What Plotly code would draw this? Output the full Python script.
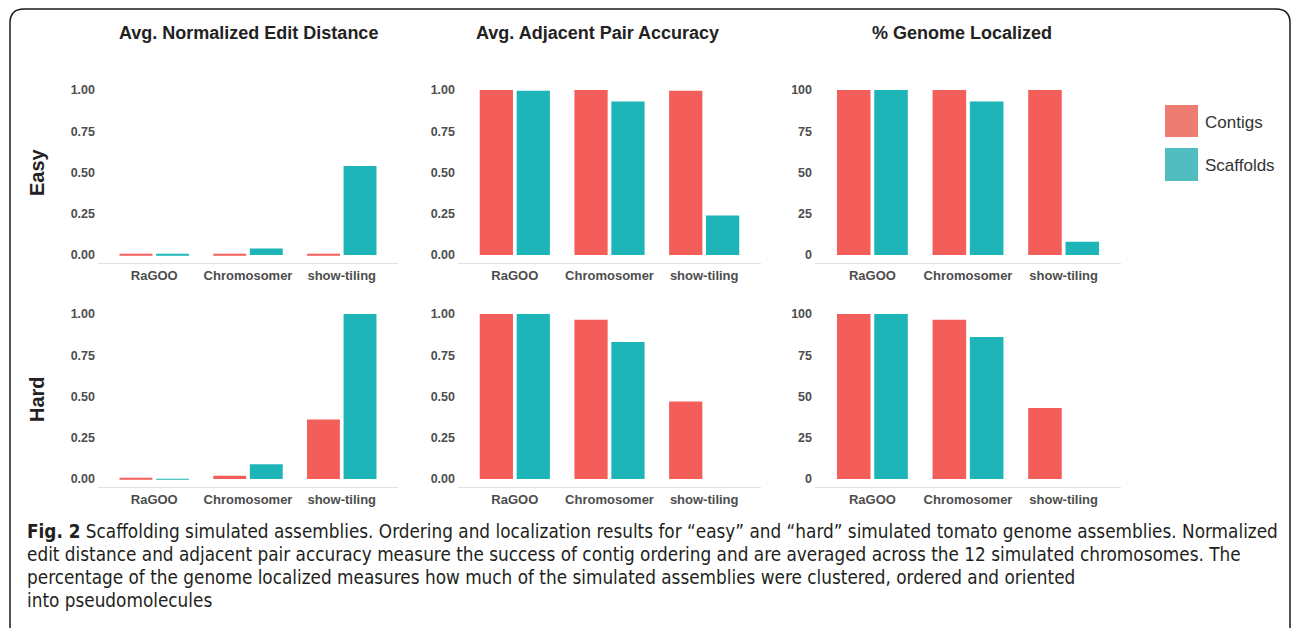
import plotly.graph_objects as go

W, H = 1292, 628

methods = ["RaGOO", "Chromosomer", "show-tiling"]
series_names = ["Contigs", "Scaffolds"]
panel_titles = ["Avg. Normalized Edit Distance", "Avg. Adjacent Pair Accuracy", "% Genome Localized"]
row_labels = ["Easy", "Hard"]

easy_edit_contigs = [0.002, 0.002, 0.008]
easy_edit_scaffolds = [0.003, 0.04, 0.54]
easy_adj_contigs = [1.00, 1.00, 0.995]
easy_adj_scaffolds = [0.995, 0.93, 0.24]
easy_loc_contigs = [100, 100, 100]
easy_loc_scaffolds = [100, 93, 8]

hard_edit_contigs = [0.002, 0.02, 0.36]
hard_edit_scaffolds = [0.001, 0.09, 1.00]
hard_adj_contigs = [1.00, 0.965, 0.47]
hard_adj_scaffolds = [1.00, 0.83, 0.0]
hard_loc_contigs = [100, 96.5, 43]
hard_loc_scaffolds = [100, 86, 0]

frac_ticks = [0, 0.25, 0.5, 0.75, 1.0]
frac_ticklabels = ["0.00", "0.25", "0.50", "0.75", "1.00"]
pct_ticks = [0, 25, 50, 75, 100]
pct_ticklabels = ["0", "25", "50", "75", "100"]

caption_lines = [
    "Scaffolding simulated assemblies. Ordering and localization results for \u201ceasy\u201d and \u201chard\u201d simulated tomato genome assemblies. Normalized",
    "edit distance and adjacent pair accuracy measure the success of contig ordering and are averaged across the 12 simulated chromosomes. The",
    "percentage of the genome localized measures how much of the simulated assemblies were clustered, ordered and oriented",
    "into pseudomolecules",
]

RED = "#F35E5A"
TEAL = "#1DB5B7"
LEG_RED = "#EF7C72"
LEG_TEAL = "#52BDC1"

data = [
    [(easy_edit_contigs, easy_edit_scaffolds), (easy_adj_contigs, easy_adj_scaffolds), (easy_loc_contigs, easy_loc_scaffolds)],
    [(hard_edit_contigs, hard_edit_scaffolds), (hard_adj_contigs, hard_adj_scaffolds), (hard_loc_contigs, hard_loc_scaffolds)],
]

def px_x(p):
    return p / W

def px_y(p):
    return 1 - p / H

col_px = [(98, 398), (458, 761), (815, 1121)]
row_px = [(81.75, 263.25), (305.75, 487.25)]

fig = go.Figure()
layout = {}
tick_font = dict(family="Liberation Sans, Arial, sans-serif", size=12.5, color="#4d4d4d", weight="bold")
xtick_font = dict(family="Liberation Sans, Arial, sans-serif", size=13, color="#4d4d4d", weight="bold")

idx = 0
for r in range(2):
    for c in range(3):
        idx += 1
        xa = "x" if idx == 1 else f"x{idx}"
        ya = "y" if idx == 1 else f"y{idx}"
        contigs, scaffolds = data[r][c]
        for vals, name, col in [(contigs, series_names[0], RED), (scaffolds, series_names[1], TEAL)]:
            fig.add_trace(go.Bar(
                x=methods, y=vals, name=name, marker=dict(color=col, line=dict(width=0)),
                xaxis=xa, yaxis=ya, showlegend=False, offsetgroup=name,
            ))
        pct = (c == 2)
        layout["xaxis" if idx == 1 else f"xaxis{idx}"] = dict(
            domain=[px_x(col_px[c][0]), px_x(col_px[c][1])],
            anchor=ya, type="category", range=[-0.6, 2.6],
            showgrid=False, zeroline=False, showline=True, linecolor="#e3e3e3", linewidth=1,
            ticks="", tickfont=xtick_font, fixedrange=True,
        )
        layout["yaxis" if idx == 1 else f"yaxis{idx}"] = dict(
            domain=[px_y(row_px[r][1]), px_y(row_px[r][0])],
            anchor=xa, range=[-5, 105] if pct else [-0.05, 1.05],
            tickvals=pct_ticks if pct else frac_ticks,
            ticktext=pct_ticklabels if pct else frac_ticklabels,
            showgrid=False, zeroline=False, showline=False, ticks="",
            tickfont=tick_font, ticklabelstandoff=2, fixedrange=True,
        )

annotations = []
title_cx = [248, 597, 962]
for c in range(3):
    annotations.append(dict(
        text=f"<b>{panel_titles[c]}</b>", x=px_x(title_cx[c]), y=px_y(33.5), xref="paper", yref="paper",
        xanchor="center", yanchor="middle", showarrow=False,
        font=dict(family="Liberation Sans, Arial, sans-serif", size=18, color="#222222"),
    ))
row_cy = [172, 399]
for r in range(2):
    annotations.append(dict(
        text=f"<b>{row_labels[r]}</b>", x=px_x(37), y=px_y(row_cy[r]), xref="paper", yref="paper",
        xanchor="center", yanchor="middle", showarrow=False, textangle=-90,
        font=dict(family="Liberation Sans, Arial, sans-serif", size=20, color="#222222"),
    ))

# legend (drawn manually to match large key squares)
leg_items = [(series_names[0], LEG_RED, 105, 137), (series_names[1], LEG_TEAL, 148, 181)]
shapes = []
for name, col, y0, y1 in leg_items:
    shapes.append(dict(type="rect", xref="paper", yref="paper", x0=px_x(1165), x1=px_x(1198),
                       y0=px_y(y1), y1=px_y(y0), fillcolor=col, line=dict(width=0)))
    annotations.append(dict(
        text=name, x=px_x(1203), y=px_y((y0 + y1) / 2 + 1), xref="paper", yref="paper",
        xanchor="left", yanchor="middle", showarrow=False,
        font=dict(family="Liberation Sans, Arial, sans-serif", size=17, color="#333333"),
    ))

# caption
cap_font = "Liberation Sans Narrow, DejaVu Sans Condensed, Arial Narrow, sans-serif"
cap_y = [531, 554, 577, 600]
for i, line in enumerate(caption_lines):
    txt = ("<b>Fig. 2</b> " + line) if i == 0 else line
    annotations.append(dict(
        text=txt, x=px_x(25), y=px_y(cap_y[i]), xref="paper", yref="paper",
        xanchor="left", yanchor="middle", showarrow=False,
        font=dict(family=cap_font, size=18.8, color="#231f20"),
    ))

# rounded frame
x0, x1 = px_x(10), px_x(1290)
yt = px_y(9)
yb = px_y(640)
rx, ry = 14 / W, 14 / H
path = (f"M {x0},{yb} L {x0},{yt - ry} Q {x0},{yt} {x0 + rx},{yt} "
        f"L {x1 - rx},{yt} Q {x1},{yt} {x1},{yt - ry} L {x1},{yb}")
shapes.append(dict(type="path", xref="paper", yref="paper", path=path,
                   line=dict(color="#1a1a1a", width=1.5)))

fig.update_layout(
    **layout,
    width=W, height=H, margin=dict(l=0, r=0, t=0, b=0),
    paper_bgcolor="white", plot_bgcolor="white",
    barmode="group", bargap=0.22, bargroupgap=0.1,
    showlegend=False, annotations=annotations, shapes=shapes,
)

fig.write_html(
    "out.html", include_plotlyjs=True, config={"displayModeBar": False},
    post_script="document.body.style.margin='0';document.body.style.overflow='hidden';",
)
